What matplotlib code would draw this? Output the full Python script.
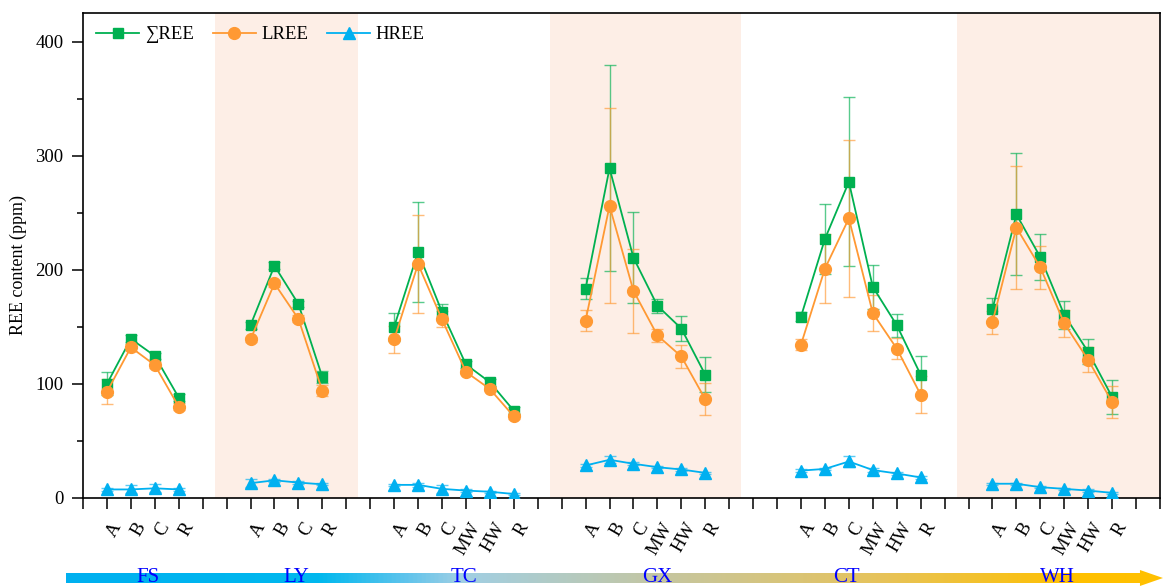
import numpy as np
import matplotlib
matplotlib.use('Agg')
import matplotlib.pyplot as plt
import matplotlib.transforms as mtransforms
from matplotlib.colors import LinearSegmentedColormap, to_rgba
from matplotlib.patches import Polygon
from matplotlib.lines import Line2D

plt.rcParams['font.family'] = ['Liberation Serif', 'DejaVu Serif']

# sites and horizon positions along the x axis
groups = ['FS', 'LY', 'TC', 'GX', 'CT', 'WH']
group_x = [[1, 2, 3, 4], [7, 8, 9, 10], [13, 14, 15, 16, 17, 18],
           [21, 22, 23, 24, 25, 26], [30, 31, 32, 33, 34, 35], [38, 39, 40, 41, 42, 43]]
horizons = [['A', 'B', 'C', 'R'], ['A', 'B', 'C', 'R'],
            ['A', 'B', 'C', 'MW', 'HW', 'R'], ['A', 'B', 'C', 'MW', 'HW', 'R'],
            ['A', 'B', 'C', 'MW', 'HW', 'R'], ['A', 'B', 'C', 'MW', 'HW', 'R']]
group_label_x = [2.7, 8.9, 15.9, 24.0, 31.9, 40.7]
shade_spans = [(5.5, 11.5), (19.5, 27.5), (36.5, 45)]

# REE contents (ppm)
sum_ree = [[100, 139.5, 124.5, 88], [151.5, 203.5, 170, 106],
           [150, 215.5, 163, 117, 101.5, 76.5], [183.5, 289, 210.5, 168.5, 148.5, 108],
           [159, 227, 277, 185, 151.5, 108], [165.5, 248.5, 211, 160.5, 128, 88.5]]
sum_err = [[10, 3, 3, 3], [3, 3, 3, 5],
           [12, 44, 7, 3, 3, 3], [9, 90, 40, 6, 11, 15.5],
           [4, 31, 74, 19, 10, 16.5], [10, 53.5, 20, 12.5, 11, 15]]
lree = [[93, 132, 116.5, 80], [139, 188, 157, 94],
        [139, 205, 156.5, 110.5, 95.5, 71.5], [155.5, 256, 181.5, 142.5, 124, 86.5],
        [134.5, 201, 245, 162, 131, 90.5], [154, 237, 202, 153, 121, 84]]
lree_err = [[11, 3, 3, 3], [2, 3, 3, 5],
            [11.5, 43, 7, 2, 2, 2], [9, 85.5, 37, 6, 10, 14],
            [5, 30, 69, 16, 9, 16], [10, 53.5, 19, 12, 11, 14]]
hree = [[7.5, 7.5, 8.5, 7.5], [13, 15.5, 13.5, 12],
        [11.5, 11.5, 8, 6.5, 5.5, 3.5], [28.5, 33.5, 30, 27, 25, 22],
        [24, 25.5, 32, 24.5, 21.5, 18], [12.5, 12.5, 9.5, 8, 6.5, 4.5]]
hree_err = [[1, 3.5, 3.5, 1], [3.5, 1.5, 1, 1],
            [1, 1.5, 3.5, 1, 1, 1], [1.5, 3, 1.5, 1, 1, 1],
            [1, 1, 5, 1.5, 1, 1], [1, 1, 1, 1, 1, 1]]

fig = plt.figure(figsize=(11.63, 5.88), dpi=100)
ax = fig.add_axes([83 / 1163, 90 / 588, 1077 / 1163, 485 / 588])

for x0, x1 in shade_spans:
    ax.axvspan(x0, x1, color='#FDEEE6', lw=0, zorder=0)

series = [
    ('\u2211REE', sum_ree, sum_err, '#00B050', 's', 7.5),
    ('LREE', lree, lree_err, '#FF9933', 'o', 8.5),
    ('HREE', hree, hree_err, '#00B0F0', '^', 9),
]
handles = []
for name, vals, errs, color, marker, ms in series:
    for k in range(len(groups)):
        ax.errorbar(group_x[k], vals[k], yerr=errs[k], color=color, marker=marker,
                    ms=ms, mec=color, lw=1.3, elinewidth=1, capsize=4.5,
                    ecolor=to_rgba(color, 0.65), zorder=3)
    handles.append(Line2D([], [], color=color, marker=marker, ms=ms, lw=1.3, label=name))

ax.legend(handles=handles, loc='upper left', ncol=3, frameon=False, fontsize=13.5,
          handlelength=2.3, columnspacing=1.0, handletextpad=0.3, borderaxespad=0.3)

ax.set_xlim(0, 45)
ax.set_ylim(0, 425)
ax.set_xticks(np.arange(0, 46))
ax.set_xticklabels([])
ax.set_yticks([0, 100, 200, 300, 400])
ax.set_yticks(np.arange(50, 425, 100), minor=True)
ax.tick_params(axis='both', which='major', direction='out', length=8, width=1.1,
               labelsize=13.5, pad=6)
ax.tick_params(axis='y', which='minor', direction='out', length=4, width=1.1)
for sp in ax.spines.values():
    sp.set_linewidth(1.2)
ax.set_ylabel('REE content (ppm)', fontsize=13)
ax.yaxis.set_label_coords(-0.052, 0.48)

# rotated horizon labels
lab_tr = mtransforms.offset_copy(ax.get_xaxis_transform(), fig=fig, x=11, y=-26, units='dots')
for xs, labs in zip(group_x, horizons):
    for x, lab in zip(xs, labs):
        ax.text(x, 0, lab, transform=lab_tr, rotation=60, ha='right', va='center',
                rotation_mode='anchor', fontsize=13.5, clip_on=False)

# gradient arrow along the bottom
arr_ax = fig.add_axes([66 / 1163, 0, 1097 / 1163, 20 / 588])
arr_ax.set_xlim(0, 1)
arr_ax.set_ylim(0, 1)
arr_ax.axis('off')
cmap = LinearSegmentedColormap.from_list('site', [
    (0.0, '#00B0F0'), (0.23, '#00B8EE'), (0.31, '#60C4EC'), (0.36, '#A0CFE4'),
    (0.54, '#C4C6A2'), (0.74, '#E6C35C'), (0.92, '#FFC000'), (1.0, '#FFC000')])
im = arr_ax.imshow(np.linspace(0, 1, 512).reshape(1, -1), aspect='auto', cmap=cmap,
                   extent=(0, 1, 0, 1))
arrow = Polygon([(0, 0.25), (0.979, 0.25), (0.979, 0.1), (1.0, 0.5),
                 (0.979, 0.9), (0.979, 0.75), (0, 0.75)], closed=True,
                transform=arr_ax.transData, fc='none', ec='none')
arr_ax.add_patch(arrow)
im.set_clip_path(arrow)

lbl_tr = mtransforms.blended_transform_factory(ax.transData, fig.transFigure)
for gx, g in zip(group_label_x, groups):
    fig.text(gx, 10 / 588, g, transform=lbl_tr, ha='center', va='center',
             color='#0000FF', fontsize=15, zorder=5)

fig.savefig('out.png', dpi=100)
